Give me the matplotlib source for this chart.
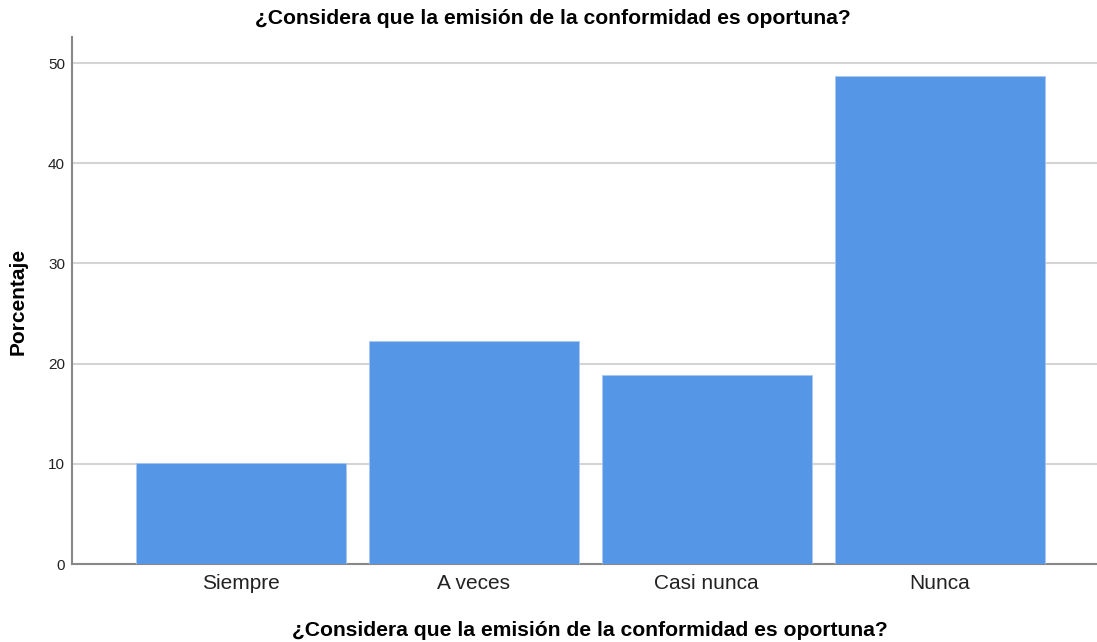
import matplotlib
matplotlib.use("Agg")
import matplotlib.pyplot as plt

categories = ["Siempre", "A veces", "Casi nunca", "Nunca"]
values = [10.1, 22.3, 18.9, 48.7]
yticks = [0, 10, 20, 30, 40, 50]
title = "¿Considera que la emisión de la conformidad es oportuna?"

plt.rcParams['font.family'] = ['Liberation Sans', 'DejaVu Sans']

fig = plt.figure(figsize=(10.97, 6.42), dpi=100)
ax = fig.add_axes([72/1097, 78/642, 1 - 72/1097, (564-37)/642])

x = list(range(len(categories)))
ax.bar(x, values, width=0.9, color="#5596E6", edgecolor="#A9C8F0", linewidth=0.6, zorder=3)
ax.set_xlim(-0.724, 3.675)
ax.set_ylim(0, 52.6)
ax.set_yticks(yticks)
ax.set_yticklabels([str(t) for t in yticks], fontsize=11, color="#222222")
ax.set_xticks(x)
ax.set_xticklabels(categories, fontsize=15, color="#222222")
ax.tick_params(axis='x', length=0, pad=7)
ax.tick_params(axis='y', length=0, pad=5)
ax.yaxis.grid(True, color="#D4D4D4", linewidth=1.5, zorder=0)
ax.set_axisbelow(True)
for s in ["top", "right"]:
    ax.spines[s].set_visible(False)
for s in ["left", "bottom"]:
    ax.spines[s].set_color("#888888")
    ax.spines[s].set_linewidth(1.5)

fig.text(553/1097, 1 - 19/642, title, ha="center", va="center", fontsize=15.2, fontweight="bold")
fig.text(590/1097, 1 - 630/642, title, ha="center", va="center", fontsize=15.2, fontweight="bold")
fig.text(18/1097, 1 - 301/642, "Porcentaje", ha="center", va="center", rotation=90, fontsize=15, fontweight="bold")

fig.savefig("out.png", dpi=100)
